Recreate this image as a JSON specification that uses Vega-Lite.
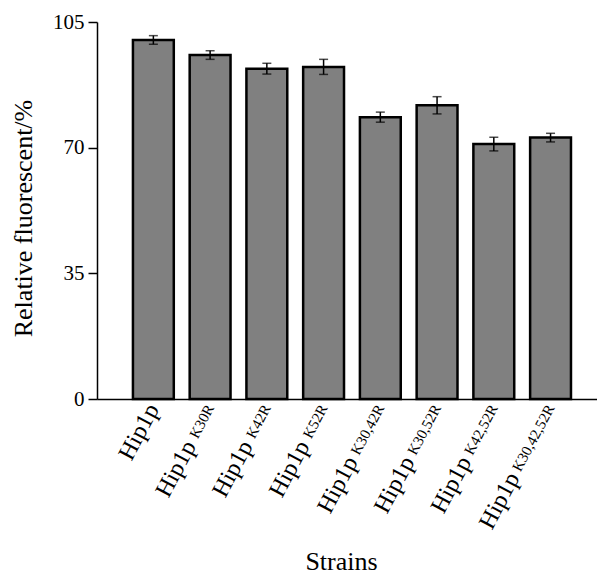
{
  "$schema": "https://vega.github.io/schema/vega-lite/v6.json",
  "width": 500,
  "height": 377,
  "autosize": "none",
  "padding": {"left": 97, "top": 22, "right": 0, "bottom": 176},
  "config": {"font": "Liberation Serif", "view": {"stroke": null}, "axis": {"grid": false, "labelColor": "black", "titleColor": "black", "titleFontWeight": "normal"}},
  "data": {"values": [
    {"strain": "Hip1p", "value": 100.0, "err": 1.2},
    {"strain": "Hip1p K30R", "value": 95.8, "err": 1.2},
    {"strain": "Hip1p K42R", "value": 92.0, "err": 1.5},
    {"strain": "Hip1p K52R", "value": 92.5, "err": 2.1},
    {"strain": "Hip1p K30,42R", "value": 78.5, "err": 1.4},
    {"strain": "Hip1p K30,52R", "value": 81.8, "err": 2.4},
    {"strain": "Hip1p K42,52R", "value": 71.0, "err": 1.9},
    {"strain": "Hip1p K30,42,52R", "value": 72.8, "err": 1.2}
  ]},
  "layer": [
    {
      "mark": {"type": "bar", "fill": "#808080", "stroke": "black", "strokeWidth": 2.5},
      "encoding": {
        "x": {"field": "strain", "type": "nominal", "sort": null,
          "scale": {"paddingInner": 0.28, "paddingOuter": 0.546, "align": 0.58},
          "axis": {"orient": "bottom", "title": "Strains", "titleFontSize": 26, "titlePadding": 16, "titleX": 244,
            "labelAngle": -62, "labelAlign": "right", "labelBaseline": "middle", "labelFontSize": 24,
            "labelPadding": 6, "ticks": false, "domainColor": "black", "domainWidth": 1.5,
            "labelExpr": "indexof(datum.label,' ')<0 ? datum.label : split(datum.label,' ')[0] + (length(datum.label) > 14 ? '\u00a0\u00a0\u00a0\u00a0\u00a0\u00a0\u00a0\u00a0\u00a0\u00a0\u00a0\u00a0\u00a0\u2060' : (length(datum.label) > 11 ? '\u00a0\u00a0\u00a0\u00a0\u00a0\u00a0\u00a0\u00a0\u00a0\u00a0\u2060' : '\u00a0\u00a0\u00a0\u00a0\u00a0\u00a0\u00a0\u2060'))"}},
        "y": {"field": "value", "type": "quantitative", "title": "Relative fluorescent/%", "scale": {"domain": [0, 105], "nice": false},
          "axis": {"values": [0, 35, 70, 105], "titleFontSize": 26, "titlePadding": 16, "titleY": 196,
            "labelFontSize": 21, "labelPadding": 4, "tickSize": 9, "tickWidth": 1.5, "tickColor": "black",
            "domainColor": "black", "domainWidth": 1.5}}
      }
    },
    {
      "mark": {"type": "errorbar", "ticks": {"size": 9, "thickness": 1.5, "color": "black"}, "rule": {"strokeWidth": 1.5, "color": "black"}},
      "encoding": {
        "x": {"field": "strain", "type": "nominal", "sort": null,
          "axis": {"orient": "bottom", "title": null, "labelAngle": -62, "labelAlign": "right", "labelBaseline": "middle",
            "labelFontSize": 15, "labelPadding": 6, "ticks": false, "domain": false,
            "labelExpr": "indexof(datum.label,' ')<0 ? '' : slice(datum.label, indexof(datum.label,' ')+1)"}},
        "y": {"field": "value", "type": "quantitative", "title": "Relative fluorescent/%", "scale": {"domain": [0, 105], "nice": false}},
        "yError": {"field": "err"}
      }
    }
  ],
  "resolve": {"axis": {"x": "independent"}}
}
